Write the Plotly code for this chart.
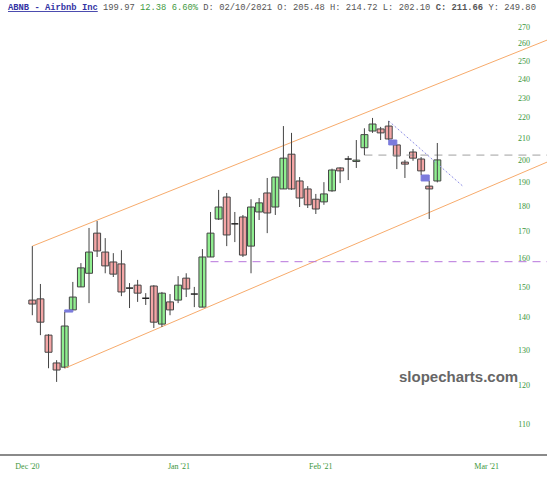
import math
import plotly.graph_objects as go

# ---- data ----
opens  = [145.6, 146.0, 134.5, 126.3, 125.1, 142.4, 150.0, 154.7, 169.4, 162.3,
          158.7, 158.0, 149.6, 150.6, 146.2, 150.3, 137.9, 145.0, 145.6, 153.0,
          147.6, 143.3, 160.5, 174.9, 183.8, 173.0, 175.7, 164.5, 177.7, 185.5,
          179.7, 187.2, 202.5, 190.6, 187.2, 182.9, 181.8, 186.4, 196.3, 200.3,
          199.2, 205.48, 213.4, 214.4, 215.8, 206.8, 198.9, 203.5, 200.3, 188.4,
          190.6]
highs  = [164.5, 151.0, 134.8, 127.1, 141.7, 151.7, 158.3, 171.4, 174.1, 167.5,
          161.9, 163.0, 151.3, 152.4, 147.9, 150.6, 148.3, 147.6, 153.7, 154.7,
          150.0, 163.4, 177.7, 186.8, 185.5, 177.7, 176.5, 182.9, 183.4, 191.9,
          192.3, 215.8, 212.5, 192.3, 188.4, 185.1, 190.1, 196.0, 196.6, 201.7,
          209.1, 214.72, 219.8, 215.4, 218.3, 206.8, 199.9, 204.9, 201.2, 190.6,
          207.7]
lows   = [140.7, 134.5, 124.8, 121.0, 124.8, 142.4, 150.0, 144.6, 160.5, 154.7,
          153.4, 146.9, 143.0, 145.0, 144.0, 136.7, 137.0, 140.7, 144.6, 146.6,
          143.3, 143.3, 160.5, 174.5, 164.5, 166.0, 160.5, 154.7, 174.5, 169.4,
          176.5, 187.2, 186.8, 179.7, 179.3, 176.9, 180.6, 186.0, 189.7, 191.0,
          196.3, 202.10, 212.5, 209.1, 209.1, 195.8, 191.9, 199.5, 193.2, 174.9,
          190.0]
closes = [144.3, 138.5, 129.4, 124.3, 137.3, 146.6, 156.6, 162.3, 162.7, 157.3,
          154.4, 148.3, 149.6, 147.9, 146.2, 138.5, 147.9, 142.4, 150.6, 149.3,
          147.6, 160.5, 169.4, 179.7, 168.7, 173.0, 161.2, 179.7, 181.4, 177.3,
          192.3, 200.7, 187.2, 183.4, 180.6, 178.9, 185.1, 195.4, 195.0, 200.3,
          199.8, 211.66, 216.8, 212.5, 209.6, 201.7, 198.0, 200.7, 195.0, 187.2,
          199.9]
idx = list(range(len(opens)))

# trend / channel lines (index, price)
upper_x, upper_y = [0, 63.54], [164.5, 262.1]
lower_x, lower_y = [4, 63.54], [124.8, 198.9]
support_x, support_y = [22, 63.54], [158.8, 158.8]
resist_x, resist_y = [41, 63.54], [202.1, 202.1]
down_x, down_y = [44, 53.14], [218.3, 188.4]

x_tick_pos = [-0.6, 18.1, 35.6, 56.1]
x_tick_text = ["Dec '20", "Jan '21", "Feb '21", "Mar '21"]
y_ticks = list(range(110, 271, 10))

title_html = ('<span style="color:#3434a4;text-decoration:underline"><b>ABNB - Airbnb Inc</b></span>'
              ' 199.97 <span style="color:#3f9a3f">12.38 6.60%</span>'
              ' D: 02/10/2021 O: 205.48 H: 214.72 L: 202.10 <b>C: 211.66</b> Y: 249.80')

UP, DOWN, EDGE = "#90ee90", "#f4a6a6", "#444444"
BODY_W = 0.86

fig = go.Figure()

# gap boxes between consecutive candles (derived from data)
gx, gy = [], []
for i in range(len(idx) - 1):
    lo = hi = None
    if highs[i] < lows[i + 1]:
        lo, hi = highs[i], lows[i + 1]
    elif lows[i] > highs[i + 1]:
        lo, hi = highs[i + 1], lows[i]
    if lo is not None:
        gx += [idx[i], idx[i + 1], idx[i + 1], idx[i], idx[i], None]
        gy += [lo, lo, hi, hi, lo, None]
fig.add_trace(go.Scatter(x=gx, y=gy, mode="lines", fill="toself",
                         fillcolor="#7b7bdc", line=dict(color="#7b7bdc", width=1),
                         hoverinfo="skip", showlegend=False))

for xs, ys, col, dash, w in [
    (upper_x, upper_y, "#f7ab6c", "solid", 1),
    (lower_x, lower_y, "#f7ab6c", "solid", 1),
    (support_x, support_y, "#b774dc", "8px,6px", 1),
    (resist_x, resist_y, "#a0a0a0", "8px,6px", 1),
    (down_x, down_y, "#8c8ce6", "2px,2px", 1),
]:
    fig.add_trace(go.Scatter(x=xs, y=ys, mode="lines",
                             line=dict(color=col, dash=dash, width=w),
                             hoverinfo="skip", showlegend=False))

# wicks
wx, wy = [], []
for i, h, l in zip(idx, highs, lows):
    wx += [i, i, None]
    wy += [l, h, None]
fig.add_trace(go.Scatter(x=wx, y=wy, mode="lines", line=dict(color=EDGE, width=1),
                         hoverinfo="skip", showlegend=False))

# bodies (non-doji as bars, doji as flat ticks)
bx, bbase, bsize, bcol = [], [], [], []
dx, dy = [], []
for i, o, c in zip(idx, opens, closes):
    if o == c:
        dx += [i - BODY_W / 2, i + BODY_W / 2, None]
        dy += [o, o, None]
    else:
        bx.append(i)
        bbase.append(min(o, c))
        bsize.append(abs(c - o))
        bcol.append(UP if c > o else DOWN)
fig.add_trace(go.Bar(x=bx, y=bsize, base=bbase, width=BODY_W,
                     marker=dict(color=bcol, line=dict(color=EDGE, width=1)),
                     hoverinfo="skip", showlegend=False))
fig.add_trace(go.Scatter(x=dx, y=dy, mode="lines", line=dict(color="#222222", width=1.5),
                         hoverinfo="skip", showlegend=False))

fig.update_layout(
    width=547, height=480,
    margin=dict(l=0, r=0, t=20, b=26),
    paper_bgcolor="white", plot_bgcolor="white",
    barmode="overlay",
    showlegend=False,
    xaxis=dict(range=[-3.99, 63.54],
               showgrid=False, zeroline=False, showline=True,
               linecolor="#8a8a8a", linewidth=1.5,
               tickmode="array", tickvals=x_tick_pos, ticktext=x_tick_text,
               ticks="", ticklabelstandoff=4,
               tickfont=dict(family="Liberation Serif", size=8, color="#3c963c")),
    yaxis=dict(type="log", range=[math.log10(102.8), math.log10(274.3)],
               side="right", ticklabelposition="inside",
               tickmode="array", tickvals=y_ticks, ticktext=[str(v) for v in y_ticks],
               showgrid=False, zeroline=False, showline=False, ticks="",
               ticklabelstandoff=14,
               tickfont=dict(family="Liberation Serif", size=8, color="#3c963c")),
    annotations=[
        dict(text=title_html, xref="paper", yref="paper", x=6 / 547, y=(454 - 8) / 434,
             xanchor="left", yanchor="middle", showarrow=False,
             font=dict(family="Liberation Mono", size=8.8, color="#555555")),
        dict(text="<b>slopecharts.com</b>", xref="paper", yref="paper",
             x=520 / 547, y=(454 - 376) / 434, xanchor="right", yanchor="middle",
             showarrow=False,
             font=dict(family="Liberation Sans", size=15, color="#666666")),
    ],
)

fig.write_html("out.html")
